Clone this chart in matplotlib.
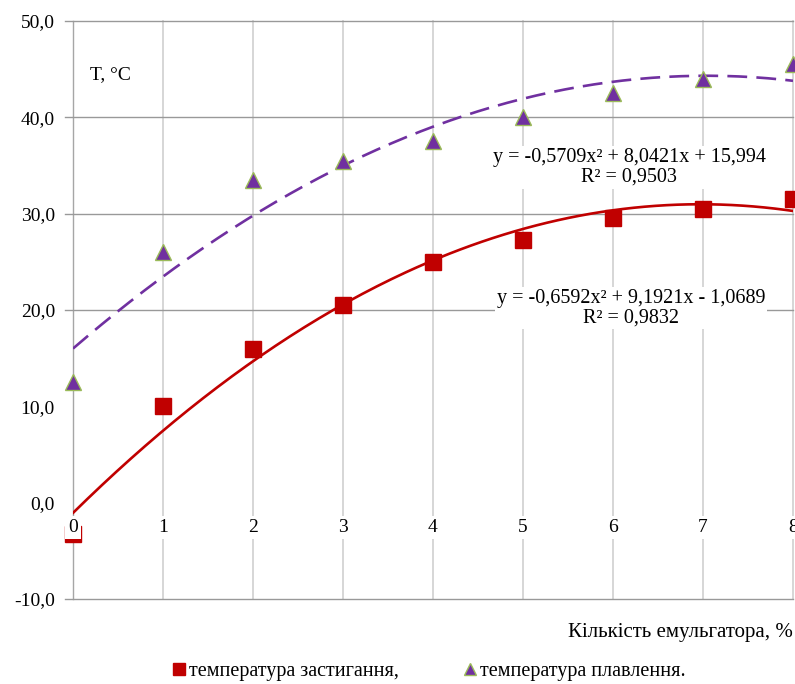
import matplotlib
matplotlib.use("Agg")
import matplotlib.pyplot as plt
import numpy as np

plt.rcParams['font.family'] = 'serif'
plt.rcParams['font.serif'] = ['Liberation Serif', 'DejaVu Serif']

# data
x = [0, 1, 2, 3, 4, 5, 6, 7, 8]
t_zast = [-3.3, 10.0, 16.0, 20.5, 25.0, 27.3, 29.5, 30.5, 31.5]
t_plav = [12.5, 26.0, 33.5, 35.5, 37.5, 40.0, 42.5, 44.0, 45.5]

# trend coefficients as printed on the chart
coef_zast = [-0.6592, 9.1921, -1.0689]
coef_plav = [-0.5709, 8.0421, 15.994]

y_ticks = [-10, 0, 10, 20, 30, 40, 50]
y_tick_labels = ['-10,0', '0,0', '10,0', '20,0', '30,0', '40,0', '50,0']
h_grid = [20, 30, 40, 50]
x_ticks = [0, 1, 2, 3, 4, 5, 6, 7, 8]

fig = plt.figure(figsize=(7.95, 6.84), dpi=100)
ax = fig.add_axes([0.0918, 0.1243, 0.9057, 0.845])
ax.set_xlim(0, 8)
ax.set_ylim(-10, 50)

for s in ax.spines.values():
	s.set_visible(False)

#Gridlines:
for v in x_ticks[1:]:
	ax.plot([v, v], [-10, 50], color='#cfcfcf', lw=1.2, zorder=1, clip_on=False)
ax.plot([0, 0], [-10, 50], color='#a6a6a6', lw=1.0, zorder=1, clip_on=False)
for v in h_grid + [-10]:
	ax.plot([-0.09, 8], [v, v], color='#999999', lw=1.0, zorder=1, clip_on=False)

#Trend lines:
xx = np.linspace(0, 8, 200)
ax.plot(xx, np.polyval(coef_zast, xx), color='#c00000', lw=1.9, zorder=3)
ax.plot(xx, np.polyval(coef_plav, xx), color='#7030a0', lw=1.9, ls=(0, (7.5, 3.5)), zorder=3)

#Markers:
ax.plot(x, t_zast, 's', color='#c00000', ms=11.5, mec='#c00000', zorder=4, clip_on=False,
	label='температура застигання,')
ax.plot(x, t_plav, '^', color='#7030a0', ms=11, mec='#9bbb59', mew=1.0, zorder=4, clip_on=False,
	label='температура плавлення.')

#Y ticks:
ax.set_yticks(y_ticks)
ax.set_yticklabels(y_tick_labels, fontsize=14)
ax.tick_params(axis='y', length=0, pad=13)
ax.set_xticks([])

#X tick labels sit just below the zero line with white boxes:
for v in x_ticks:
	ax.text(v, -2.6, str(v), ha='center', va='center', fontsize=14, zorder=5,
		bbox=dict(boxstyle='square,pad=0.15', fc='white', ec='none'), clip_on=False)

ax.text(0.19, 44.4, 'T, °C', fontsize=14, ha='left', va='center')

#Equation labels:
ax.text(6.18, 34.8, 'y = -0,5709x² + 8,0421x + 15,994\nR² = 0,9503', fontsize=14.5,
	ha='center', va='center', linespacing=1.05, zorder=5,
	bbox=dict(boxstyle='square,pad=0.1', fc='white', ec='none'))
ax.text(6.2, 20.2, 'y = -0,6592x² + 9,1921x - 1,0689\nR² = 0,9832', fontsize=14.5,
	ha='center', va='center', linespacing=1.05, zorder=5,
	bbox=dict(boxstyle='square,pad=0.1', fc='white', ec='none'))

fig.text(0.997, 0.076, 'Кількість емульгатора, %', fontsize=15, ha='right', va='center')

fig.legend(loc='center', bbox_to_anchor=(0.54, 0.018), ncol=2, frameon=False, fontsize=14.5,
	handlelength=0.6, handletextpad=0.2, columnspacing=3.2, markerscale=0.8)

fig.savefig('out.png', dpi=100)
